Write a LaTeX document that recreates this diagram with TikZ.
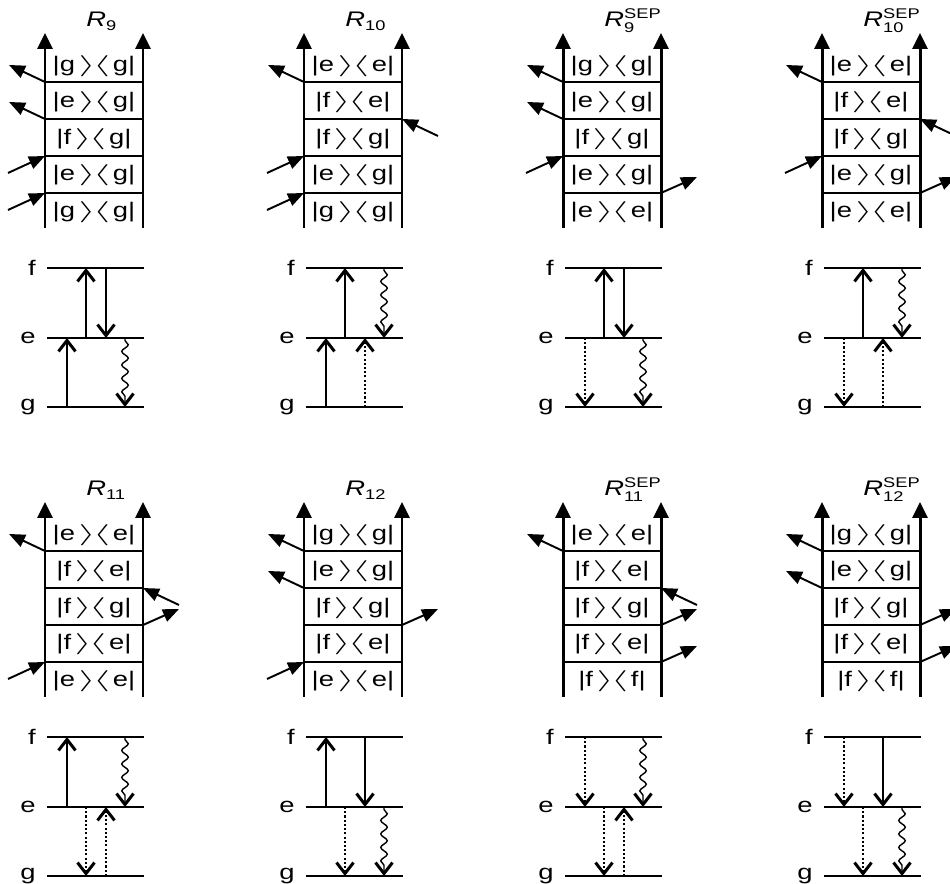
\documentclass[tikz,border=0pt]{standalone}
\usepackage{amsmath}
\usepackage{fontspec}
\setmainfont{Liberation Sans}[FakeStretch=1.3]
\usepackage{tikz}
\usetikzlibrary{
  arrows.meta,
  decorations.pathmorphing
}

\newcommand{\dmel}[2]{|#1\kern2pt\scalebox{2.1}[1]{$\rangle$}\kern-1.7pt\scalebox{2.1}[1]{$\langle$}\kern1.7pt#2|}

\tikzset{
  rail/.style={
    line width=1.7pt,
    -{Triangle[length=0.32cm,width=0.3cm]}
  },
  rung/.style={line width=0.9pt},
  level/.style={line width=1.5pt},
  cellText/.style={
    inner sep=0pt,
    font=\fontsize{12}{14}\selectfont
  },
  levelLabel/.style={
    anchor=east,
    inner sep=0pt,
    font=\fontsize{12}{14}\selectfont
  },
  titleText/.style={
    anchor=base west,
    inner sep=0pt,
    font=\fontsize{12}{14}\selectfont
  },
  sideArrow/.style={
    line width=1.1pt,
    -{Triangle[length=0.32cm,width=0.26cm]}
  },
  pumpArrow/.style={
    line width=0.8pt,
    -{Straight Barb[length=0.22cm,width=0.34cm,line width=1.7pt]}
  },
  dotArrow/.style={
    pumpArrow,
    dash pattern=on 1.2pt off 1.2pt
  },
  waveArrow/.style={
    pumpArrow,
    decorate,
    decoration={snake, amplitude=0.065cm, segment length=0.27cm,
      pre length=0.05cm, post length=0.2cm}
  },
  ladder/.pic={
    \coordinate (-lb) at (0,-228);
    \coordinate (-lt) at (0,-33);
    \coordinate (-rb) at (98,-228);
    \coordinate (-rt) at (98,-33);
    \coordinate (-tpos) at (41,-27);
    \draw[rail] (-lb) -- (-lt);
    \draw[rail] (-rb) -- (-rt);
    \foreach \k/\y in {1/82,2/119,3/156,4/193}{
      \coordinate (-l\k) at (0,-\y);
      \coordinate (-r\k) at (98,-\y);
      \coordinate (-lin\k) at (-37,-\y-17);
      \coordinate (-lout\k) at (-36,-\y+17);
      \coordinate (-rin\k) at (134,-\y-17);
      \coordinate (-rout\k) at (134,-\y+16);
      \draw[rung] (-l\k) -- (-r\k);
    }
    \foreach \a/\b [count=\k] in {#1}
      \node[cellText] (-cell\k) at (49,{-66-36.5*(\k-1)}) {\dmel{\a}{\b}};
    \foreach \lv/\y in {f/268,e/338,g/407}{
      \node[levelLabel] (-\lv) at (-9,-\y) {\lv};
      \coordinate (-\lv0) at (2,-\y);
      \coordinate (-\lv5) at (99,-\y);
      \foreach \c/\x in {1/22,2/41,3/61,4/80}
        \coordinate (-\lv\c) at (\x,-\y);
      \draw[level] (-\lv0) -- (-\lv5);
    }
  }
}

\begin{document}
\begin{tikzpicture}[x=0.02cm, y=0.02cm]
  \useasboundingbox (0,0) rectangle (950,-884);
  \clip (0,0) rectangle (950,-884);

  % top row
  \pic (p9) at (45,0) {ladder={g/g,e/g,f/g,e/g,g/g}};
  \node[titleText] (t9) at (p9-tpos) {$\textit{R}_{\text{9}}$};
  \draw[sideArrow] (p9-l1) -- (p9-lout1);
  \draw[sideArrow] (p9-l2) -- (p9-lout2);
  \draw[sideArrow] (p9-lin3) -- (p9-l3);
  \draw[sideArrow] (p9-lin4) -- (p9-l4);
  \draw[pumpArrow] (p9-e2) -- (p9-f2);
  \draw[pumpArrow] (p9-f3) -- (p9-e3);
  \draw[pumpArrow] (p9-g1) -- (p9-e1);
  \draw[waveArrow] (p9-e4) -- (p9-g4);

  \pic (p10) at (304,0) {ladder={e/e,f/e,f/g,e/g,g/g}};
  \node[titleText] (t10) at (p10-tpos) {$\textit{R}_{\text{10}}$};
  \draw[sideArrow] (p10-l1) -- (p10-lout1);
  \draw[sideArrow] (p10-rin2) -- (p10-r2);
  \draw[sideArrow] (p10-lin3) -- (p10-l3);
  \draw[sideArrow] (p10-lin4) -- (p10-l4);
  \draw[pumpArrow] (p10-e2) -- (p10-f2);
  \draw[waveArrow] (p10-f4) -- (p10-e4);
  \draw[pumpArrow] (p10-g1) -- (p10-e1);
  \draw[dotArrow] (p10-g3) -- (p10-e3);

  \pic (s9) at (563,0) {ladder={g/g,e/g,f/g,e/g,e/e}};
  \node[titleText] (u9) at (s9-tpos) {$\textit{R}_{\text{9}}^{\text{SEP}}$};
  \draw[sideArrow] (s9-l1) -- (s9-lout1);
  \draw[sideArrow] (s9-l2) -- (s9-lout2);
  \draw[sideArrow] (s9-lin3) -- (s9-l3);
  \draw[sideArrow] (s9-r4) -- (s9-rout4);
  \draw[pumpArrow] (s9-e2) -- (s9-f2);
  \draw[pumpArrow] (s9-f3) -- (s9-e3);
  \draw[dotArrow] (s9-e1) -- (s9-g1);
  \draw[waveArrow] (s9-e4) -- (s9-g4);

  \pic (s10) at (822,0) {ladder={e/e,f/e,f/g,e/g,e/e}};
  \node[titleText] (u10) at (s10-tpos) {$\textit{R}_{\text{10}}^{\text{SEP}}$};
  \draw[sideArrow] (s10-l1) -- (s10-lout1);
  \draw[sideArrow] (s10-rin2) -- (s10-r2);
  \draw[sideArrow] (s10-lin3) -- (s10-l3);
  \draw[sideArrow] (s10-r4) -- (s10-rout4);
  \draw[pumpArrow] (s10-e2) -- (s10-f2);
  \draw[waveArrow] (s10-f4) -- (s10-e4);
  \draw[dotArrow] (s10-e1) -- (s10-g1);
  \draw[dotArrow] (s10-g3) -- (s10-e3);

  % bottom row
  \pic (p11) at (45,-469) {ladder={e/e,f/e,f/g,f/e,e/e}};
  \node[titleText] (t11) at (p11-tpos) {$\textit{R}_{\text{11}}$};
  \draw[sideArrow] (p11-l1) -- (p11-lout1);
  \draw[sideArrow] (p11-rin2) -- (p11-r2);
  \draw[sideArrow] (p11-r3) -- (p11-rout3);
  \draw[sideArrow] (p11-lin4) -- (p11-l4);
  \draw[pumpArrow] (p11-e1) -- (p11-f1);
  \draw[waveArrow] (p11-f4) -- (p11-e4);
  \draw[dotArrow] (p11-e2) -- (p11-g2);
  \draw[dotArrow] (p11-g3) -- (p11-e3);

  \pic (p12) at (304,-469) {ladder={g/g,e/g,f/g,f/e,e/e}};
  \node[titleText] (t12) at (p12-tpos) {$\textit{R}_{\text{12}}$};
  \draw[sideArrow] (p12-l1) -- (p12-lout1);
  \draw[sideArrow] (p12-l2) -- (p12-lout2);
  \draw[sideArrow] (p12-r3) -- (p12-rout3);
  \draw[sideArrow] (p12-lin4) -- (p12-l4);
  \draw[pumpArrow] (p12-e1) -- (p12-f1);
  \draw[pumpArrow] (p12-f3) -- (p12-e3);
  \draw[dotArrow] (p12-e2) -- (p12-g2);
  \draw[waveArrow] (p12-e4) -- (p12-g4);

  \pic (s11) at (563,-469) {ladder={e/e,f/e,f/g,f/e,f/f}};
  \node[titleText] (u11) at (s11-tpos) {$\textit{R}_{\text{11}}^{\text{SEP}}$};
  \draw[sideArrow] (s11-l1) -- (s11-lout1);
  \draw[sideArrow] (s11-rin2) -- (s11-r2);
  \draw[sideArrow] (s11-r3) -- (s11-rout3);
  \draw[sideArrow] (s11-r4) -- (s11-rout4);
  \draw[dotArrow] (s11-f1) -- (s11-e1);
  \draw[waveArrow] (s11-f4) -- (s11-e4);
  \draw[dotArrow] (s11-e2) -- (s11-g2);
  \draw[dotArrow] (s11-g3) -- (s11-e3);

  \pic (s12) at (822,-469) {ladder={g/g,e/g,f/g,f/e,f/f}};
  \node[titleText] (u12) at (s12-tpos) {$\textit{R}_{\text{12}}^{\text{SEP}}$};
  \draw[sideArrow] (s12-l1) -- (s12-lout1);
  \draw[sideArrow] (s12-l2) -- (s12-lout2);
  \draw[sideArrow] (s12-r3) -- (s12-rout3);
  \draw[sideArrow] (s12-r4) -- (s12-rout4);
  \draw[dotArrow] (s12-f1) -- (s12-e1);
  \draw[pumpArrow] (s12-f3) -- (s12-e3);
  \draw[dotArrow] (s12-e2) -- (s12-g2);
  \draw[waveArrow] (s12-e4) -- (s12-g4);
\end{tikzpicture}
\end{document}
